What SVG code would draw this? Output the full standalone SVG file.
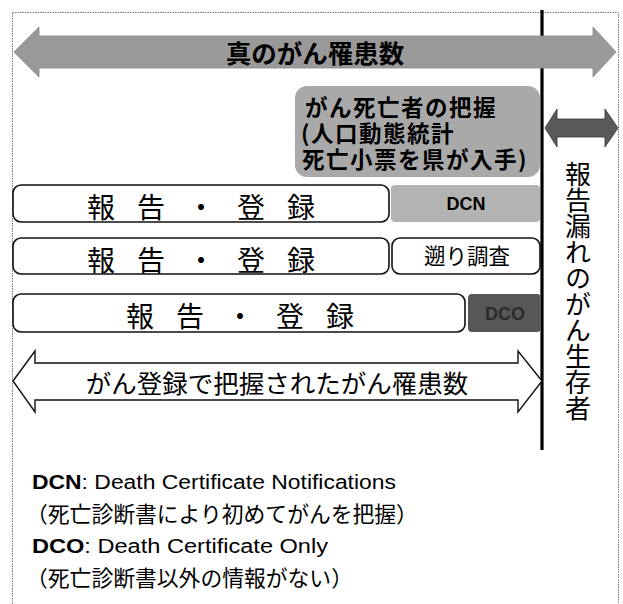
<svg xmlns="http://www.w3.org/2000/svg" width="623" height="604" viewBox="0 0 623 604">
<style>
.jp{font-family:"Noto Sans CJK JP","Noto Sans CJK SC",sans-serif;fill:#000}
.lat{font-family:"Liberation Sans","Noto Sans CJK JP",sans-serif;fill:#000}
.wbox{fill:#fff;stroke:#111;stroke-width:1.6}
.row{font-size:28px;letter-spacing:22px;text-anchor:middle}
.dth{font-size:22.5px;font-weight:700;letter-spacing:1.5px}
</style>
<rect id="frame" x="12.5" y="12.5" width="606" height="620" fill="#fff" stroke="#777" stroke-width="1" stroke-dasharray="1.5 1"/>
<g id="connectors">
<line x1="542" y1="10" x2="542" y2="450" stroke="#000" stroke-width="3.2"/>
</g>
<g id="true-incidence">
<polygon points="14,52 39,27 39,36 593,36 593,27 616,52 593,77 593,68 39,68 39,77" fill="#9a9a9a" stroke="#888" stroke-width="0.8"/>
<text class="jp" x="315" y="63" font-size="25.5" font-weight="700" text-anchor="middle">真のがん罹患数</text>
</g>
<g id="death-capture">
<rect x="295" y="86" width="245" height="91" rx="12" fill="#a9a9a9"/>
<text class="jp dth" x="305" y="116">がん死亡者の把握</text>
<text class="jp dth" x="301" y="142">(人口動態統計</text>
<text class="jp dth" x="302" y="168">死亡小票を県が入手)</text>
</g>
<g id="missing-arrow">
<polygon points="545,128 557,109 557,119 605,119 605,109 618,128 605,147 605,137 557,137 557,147" fill="#5a5a5a" stroke="#333" stroke-width="0.8"/>
</g>
<g id="missing-survivors">
<text class="jp" x="578" y="161" font-size="26" style="writing-mode:vertical-rl">報告漏れのがん生存者</text>
</g>
<g id="row1">
<rect class="wbox" x="13" y="185" width="376" height="37" rx="8"/>
<text class="jp row" x="212" y="218">報告・登録</text>
</g>
<g id="dcn">
<rect x="391" y="185" width="149" height="37" rx="4" fill="#b3b3b3"/>
<text class="lat" x="466" y="210" font-size="18" font-weight="700" text-anchor="middle">DCN</text>
</g>
<g id="row2">
<rect class="wbox" x="13" y="238" width="376" height="36" rx="8"/>
<text class="jp row" x="212" y="271">報告・登録</text>
</g>
<g id="retro">
<rect class="wbox" x="392" y="238" width="148" height="36" rx="8"/>
<text class="jp" x="467" y="264" font-size="21.5" text-anchor="middle">遡り調査</text>
</g>
<g id="row3">
<rect class="wbox" x="13" y="294" width="452" height="38" rx="8"/>
<text class="jp row" x="251" y="327">報告・登録</text>
</g>
<g id="dco">
<rect x="468" y="294" width="73" height="38" rx="4" fill="#575757"/>
<text class="lat" x="505" y="320" font-size="18" font-weight="700" text-anchor="middle" style="fill:#2a2a2a">DCO</text>
</g>
<g id="registered">
<polygon points="13,381 35,351 35,363 518,363 518,351 542,381 518,412 518,400 35,400 35,412" fill="#fff" stroke="#111" stroke-width="1.4"/>
<text class="jp" x="277" y="393" font-size="25.5" text-anchor="middle">がん登録で把握されたがん罹患数</text>
</g>
<g id="legend">
<text class="lat" x="32" y="489" font-size="20" textLength="364" lengthAdjust="spacingAndGlyphs"><tspan font-weight="700">DCN</tspan>: Death Certificate Notifications</text>
<text class="jp" x="26" y="522" font-size="21.8">（死亡診断書により初めてがんを把握）</text>
<text class="lat" x="32" y="553" font-size="20" textLength="296" lengthAdjust="spacingAndGlyphs"><tspan font-weight="700">DCO</tspan>: Death Certificate Only</text>
<text class="jp" x="26" y="586" font-size="21.8">（死亡診断書以外の情報がない）</text>
</g>
</svg>
